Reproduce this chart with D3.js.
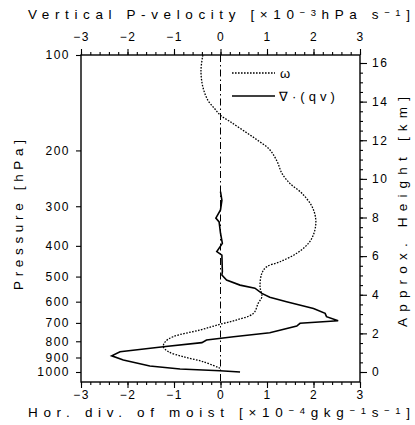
<!DOCTYPE html>
<html>
<head>
<meta charset="utf-8">
<script src="https://cdn.jsdelivr.net/npm/d3@7"></script>
<style>
  body { margin: 0; background: #fff; }
  svg { display: block; font-family: "Liberation Sans", Arial, sans-serif; }
</style>
</head>
<body>
<svg id="chart" width="415" height="425"></svg>
<script>
// omega profile (x10^-3 hPa/s) vs pressure (hPa)
const omegaP = [100, 112, 126, 139, 148, 155, 162, 173, 185, 199, 217, 236, 254, 273, 301, 332, 365, 393, 422, 449, 466, 488, 538, 579, 607, 653, 685, 707, 737, 774, 803, 832, 863, 895, 928, 973];
const omegaV = [-0.38, -0.42, -0.38, -0.27, -0.12, 0.0, 0.2, 0.49, 0.78, 1.06, 1.22, 1.32, 1.49, 1.75, 1.97, 2.05, 2.01, 1.89, 1.64, 1.28, 0.99, 0.89, 0.85, 0.89, 0.81, 0.71, 0.35, -0.01, -0.44, -1.02, -1.19, -1.23, -1.12, -0.8, -0.37, -0.01];

// moisture flux divergence (x10^-4 g/kg/s) vs pressure (hPa)
const divP = [270, 287, 308, 327, 336, 365, 393, 417, 428, 483, 494, 513, 532, 544, 565, 581, 600, 630, 653, 669, 689, 702, 716, 752, 774, 793, 808, 832, 863, 889, 916, 957, 978, 991, 1000];
const divV = [0.0, 0.03, 0.0, -0.1, -0.03, 0.0, 0.04, -0.08, 0.03, 0.04, 0.03, 0.13, 0.42, 0.74, 0.89, 1.06, 1.42, 2.0, 2.25, 2.28, 2.53, 1.71, 1.64, 1.06, 0.28, -0.3, -0.4, -1.23, -2.16, -2.34, -2.09, -1.52, -0.87, -0.01, 0.42];

const xTicks = [-3, -2, -1, 0, 1, 2, 3];
const pTicks = [100, 200, 300, 400, 500, 600, 700, 800, 900, 1000];
const kmTicks = [0, 2, 4, 6, 8, 10, 12, 14, 16];

const svg = d3.select('#chart');
const pLeft = 81, pRight = 360, pTop = 55, pBottom = 382;

const x = d3.scaleLinear().domain([-3, 3]).range([pLeft, pRight]);
const y = d3.scaleLog().domain([100, 1000]).range([55, 372]);
const h = d3.scaleLinear().domain([0, 16]).range([372, 63]);
const fmt = d3.format('d');

// frame
svg.append('rect')
  .attr('x', pLeft).attr('y', pTop)
  .attr('width', pRight - pLeft).attr('height', pBottom - pTop)
  .attr('fill', 'none').attr('stroke', '#000').attr('stroke-width', 1.4);

function styleAxis(g) {
  g.select('.domain').remove();
  g.selectAll('line').attr('stroke', '#000').attr('stroke-width', 1.1);
  g.selectAll('text').attr('fill', '#000').attr('font-size', 12)
    .attr('letter-spacing', 1.5);
}

const minorX = d3.range(-3, 3.001, 0.2);

// top axis
svg.append('g').attr('transform', `translate(0,${pTop})`)
  .call(d3.axisTop(x).tickValues(minorX).tickSize(3).tickFormat(''))
  .call(styleAxis);
svg.append('g').attr('transform', `translate(0,${pTop})`)
  .call(d3.axisTop(x).tickValues(xTicks).tickSize(6).tickPadding(8).tickFormat(fmt))
  .call(styleAxis);

// bottom axis
svg.append('g').attr('transform', `translate(0,${pBottom})`)
  .call(d3.axisBottom(x).tickValues(minorX).tickSize(3).tickFormat(''))
  .call(styleAxis);
svg.append('g').attr('transform', `translate(0,${pBottom})`)
  .call(d3.axisBottom(x).tickValues(xTicks).tickSize(6).tickPadding(2).tickFormat(fmt))
  .call(styleAxis);

// left pressure axis
svg.append('g').attr('transform', `translate(${pLeft},0)`)
  .call(d3.axisLeft(y).tickValues(pTicks).tickSize(5).tickPadding(6).tickFormat(fmt))
  .call(styleAxis);

// right height axis
svg.append('g').attr('transform', `translate(${pRight},0)`)
  .call(d3.axisRight(h).tickValues(d3.range(0, 16.01, 0.5)).tickSize(3).tickFormat(''))
  .call(styleAxis);
svg.append('g').attr('transform', `translate(${pRight},0)`)
  .call(d3.axisRight(h).tickValues(kmTicks).tickSize(7).tickPadding(5).tickFormat(fmt))
  .call(styleAxis);

// zero line
svg.append('line')
  .attr('x1', x(0)).attr('x2', x(0)).attr('y1', pTop).attr('y2', pBottom)
  .attr('stroke', '#000').attr('stroke-width', 1)
  .attr('stroke-dasharray', '7,3,1.5,3');

const line = d3.line().x(d => x(d[1])).y(d => y(d[0]));

svg.append('path')
  .datum(omegaP.map((p, i) => [p, omegaV[i]]))
  .attr('d', line.curve(d3.curveCatmullRom))
  .attr('fill', 'none').attr('stroke', '#000').attr('stroke-width', 1.3)
  .attr('stroke-dasharray', '1.6,1.4');

svg.append('path')
  .datum(divP.map((p, i) => [p, divV[i]]))
  .attr('d', line.curve(d3.curveLinear))
  .attr('fill', 'none').attr('stroke', '#000').attr('stroke-width', 1.6);

// legend
svg.append('line').attr('x1', 232).attr('x2', 275).attr('y1', 73).attr('y2', 73)
  .attr('stroke', '#000').attr('stroke-width', 1.3).attr('stroke-dasharray', '1.6,1.4');
svg.append('line').attr('x1', 232).attr('x2', 275).attr('y1', 96).attr('y2', 96)
  .attr('stroke', '#000').attr('stroke-width', 1.6);
svg.append('text').attr('x', 280).attr('y', 78).attr('font-size', 13).text('ω');
svg.append('text').attr('x', 279).attr('y', 101).attr('font-size', 13)
  .attr('letter-spacing', 4).text('∇·(qv)');

// titles
function title(sel, parts, len) {
  const t = sel.attr('font-size', 13.5).attr('fill', '#000')
    .attr('textLength', len).attr('lengthAdjust', 'spacing');
  parts.forEach(p => {
    const s = t.append('tspan').text(p[0]);
    if (p[1]) s.attr('baseline-shift', '35%').attr('font-size', 9.5);
  });
  return t;
}

title(svg.append('text').attr('x', 28).attr('y', 19),
  [['Vertical P-velocity [×10'], ['−3', 1], ['hPa s'], ['−1', 1], [']']], 382);

title(svg.append('text').attr('x', 28).attr('y', 417),
  [['Hor. div. of moist [×10'], ['−4', 1], ['gkg'], ['−1', 1], ['s'], ['−1', 1], [']']], 382);

title(svg.append('text').attr('transform', 'translate(23,290) rotate(-90)'),
  [['Pressure [hPa]']], 150);

title(svg.append('text').attr('transform', 'translate(407,327) rotate(-90)'),
  [['Approx. Height [km]']], 230);
</script>
</body>
</html>
